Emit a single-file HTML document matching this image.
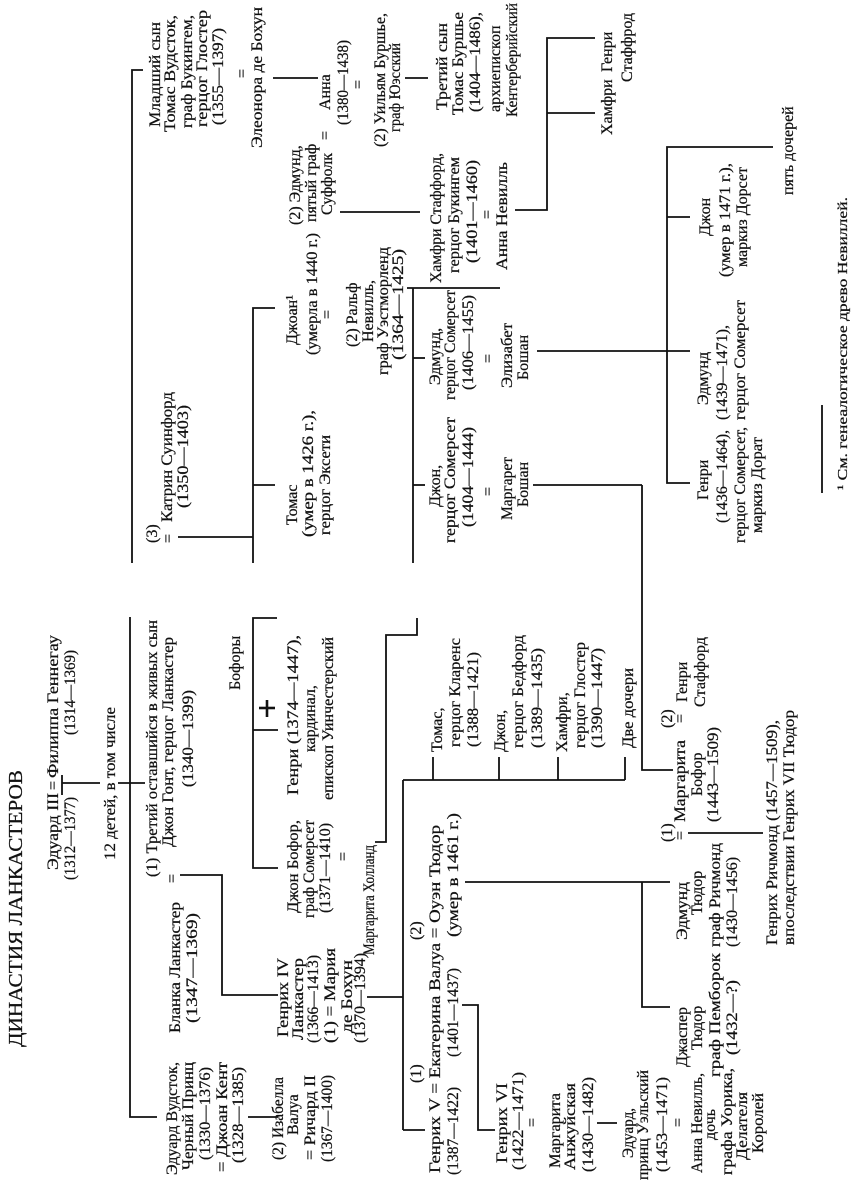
<!DOCTYPE html>
<html><head><meta charset="utf-8"><style>
html,body{margin:0;padding:0;background:#fff;}
svg{display:block;}
text{font-family:"Liberation Serif","DejaVu Serif",serif;font-size:16px;fill:#111;stroke:#111;stroke-width:0.25;}
.s{font-size:14px;}
.t{font-size:20px;}
line,polyline{stroke:#111;stroke-width:1.8;fill:none;}
</style></head><body>
<svg width="858" height="1181" viewBox="0 0 858 1181" xmlns="http://www.w3.org/2000/svg">
<rect width="858" height="1181" fill="#fff"/>
<g id="txt">
<text class="t" transform="translate(22,1047) rotate(-90)" textLength="277" lengthAdjust="spacingAndGlyphs">ДИНАСТИЯ ЛАНКАСТЕРОВ</text>

<text transform="translate(58,870) rotate(-90)" textLength="77" lengthAdjust="spacingAndGlyphs">Эдуард III</text>
<text transform="translate(58,790) rotate(-90)">=</text>
<text transform="translate(58,778) rotate(-90)" textLength="143" lengthAdjust="spacingAndGlyphs">Филиппа Геннегау</text>
<text transform="translate(75,880) rotate(-90)" textLength="83" lengthAdjust="spacingAndGlyphs">(1312—1377)</text>
<text transform="translate(75,735) rotate(-90)" textLength="85" lengthAdjust="spacingAndGlyphs">(1314—1369)</text>
<text transform="translate(115,860) rotate(-90)" textLength="153" lengthAdjust="spacingAndGlyphs">12 детей, в том числе</text>

<text transform="translate(157,877) rotate(-90)" textLength="257" lengthAdjust="spacingAndGlyphs">(1) Третий оставшийся в живых сын</text>
<text transform="translate(173,847) rotate(-90)" textLength="210" lengthAdjust="spacingAndGlyphs">Джон Гонт, герцог Ланкастер</text>
<text transform="translate(193,787) rotate(-90)" textLength="97" lengthAdjust="spacingAndGlyphs">(1340—1399)</text>
<text transform="translate(177,883) rotate(-90)">=</text>

<text transform="translate(180,1033) rotate(-90)" textLength="131" lengthAdjust="spacingAndGlyphs">Бланка Ланкастер</text>
<text transform="translate(197,1023) rotate(-90)" textLength="110" lengthAdjust="spacingAndGlyphs">(1347—1369)</text>

<text transform="translate(177,1175) rotate(-90)" textLength="113" lengthAdjust="spacingAndGlyphs">Эдуард Вудсток,</text>
<text transform="translate(193,1170) rotate(-90)" textLength="108" lengthAdjust="spacingAndGlyphs">Черный Принц</text>
<text transform="translate(210,1160) rotate(-90)" textLength="93" lengthAdjust="spacingAndGlyphs">(1330—1376)</text>
<text transform="translate(227,1172) rotate(-90)" textLength="110" lengthAdjust="spacingAndGlyphs">= Джоан Кент</text>
<text transform="translate(243,1163) rotate(-90)" textLength="96" lengthAdjust="spacingAndGlyphs">(1328—1385)</text>

<text transform="translate(283,1160) rotate(-90)" textLength="83" lengthAdjust="spacingAndGlyphs">(2) Изабелла</text>
<text transform="translate(298,1135) rotate(-90)">Валуа</text>
<text transform="translate(315,1160) rotate(-90)" textLength="85" lengthAdjust="spacingAndGlyphs">= Ричард II</text>
<text transform="translate(332,1162) rotate(-90)" textLength="87" lengthAdjust="spacingAndGlyphs">(1367—1400)</text>

<text transform="translate(288,1037) rotate(-90)" textLength="79" lengthAdjust="spacingAndGlyphs">Генрих IV</text>
<text transform="translate(303,1040) rotate(-90)" textLength="82" lengthAdjust="spacingAndGlyphs">Ланкастер</text>
<text transform="translate(318,1043) rotate(-90)" textLength="88" lengthAdjust="spacingAndGlyphs">(1366—1413)</text>
<text transform="translate(335,1043) rotate(-90)" textLength="95" lengthAdjust="spacingAndGlyphs">(1) = Мария</text>
<text transform="translate(352,1033) rotate(-90)" textLength="73" lengthAdjust="spacingAndGlyphs">де Бохун</text>
<text transform="translate(365,1043) rotate(-90)" textLength="90" lengthAdjust="spacingAndGlyphs">(1370—1394)</text>

<text transform="translate(298,913) rotate(-90)" textLength="93" lengthAdjust="spacingAndGlyphs">Джон Бофор,</text>
<text transform="translate(314,918) rotate(-90)" textLength="98" lengthAdjust="spacingAndGlyphs">граф Сомерсет</text>
<text transform="translate(330,913) rotate(-90)" textLength="90" lengthAdjust="spacingAndGlyphs">(1371—1410)</text>
<text transform="translate(348,861) rotate(-90)">=</text>
<text transform="translate(374,955) rotate(-90)" textLength="110" lengthAdjust="spacingAndGlyphs">Маргарита Холланд</text>

<text transform="translate(240,690) rotate(-90)">Бофоры</text>
<text transform="translate(298,795) rotate(-90)" textLength="160" lengthAdjust="spacingAndGlyphs">Генри (1374—1447),</text>
<text transform="translate(315,752) rotate(-90)">кардинал,</text>
<text transform="translate(333,800) rotate(-90)" textLength="163" lengthAdjust="spacingAndGlyphs">епископ Уинчестерский</text>

<text transform="translate(442,752) rotate(-90)">Томас,</text>
<text transform="translate(460,747) rotate(-90)" textLength="109" lengthAdjust="spacingAndGlyphs">герцог Кларенс</text>
<text transform="translate(478,747) rotate(-90)" textLength="95" lengthAdjust="spacingAndGlyphs">(1388—1421)</text>
<text transform="translate(505,752) rotate(-90)">Джон,</text>
<text transform="translate(523,748) rotate(-90)" textLength="113" lengthAdjust="spacingAndGlyphs">герцог Бедфорд</text>
<text transform="translate(542,748) rotate(-90)" textLength="100" lengthAdjust="spacingAndGlyphs">(1389—1435)</text>
<text transform="translate(567,752) rotate(-90)">Хамфри,</text>
<text transform="translate(585,748) rotate(-90)" textLength="106" lengthAdjust="spacingAndGlyphs">герцог Глостер</text>
<text transform="translate(602,748) rotate(-90)" textLength="100" lengthAdjust="spacingAndGlyphs">(1390—1447)</text>
<text transform="translate(633,748) rotate(-90)" textLength="80" lengthAdjust="spacingAndGlyphs">Две дочери</text>

<text transform="translate(421,1083) rotate(-90)">(1)</text>
<text transform="translate(421,940) rotate(-90)">(2)</text>
<text transform="translate(440,1173) rotate(-90)" textLength="348" lengthAdjust="spacingAndGlyphs">Генрих V = Екатерина Валуа = Оуэн Тюдор</text>
<text transform="translate(458,1175) rotate(-90)" textLength="88" lengthAdjust="spacingAndGlyphs">(1387—1422)</text>
<text transform="translate(458,1057) rotate(-90)" textLength="89" lengthAdjust="spacingAndGlyphs">(1401—1437)</text>
<text transform="translate(458,937) rotate(-90)" textLength="124" lengthAdjust="spacingAndGlyphs">(умер в 1461 г.)</text>

<text transform="translate(507,1163) rotate(-90)" textLength="80" lengthAdjust="spacingAndGlyphs">Генрих VI</text>
<text transform="translate(523,1170) rotate(-90)" textLength="98" lengthAdjust="spacingAndGlyphs">(1422—1471)</text>
<text transform="translate(537,1127) rotate(-90)">=</text>
<text transform="translate(560,1168) rotate(-90)" textLength="75" lengthAdjust="spacingAndGlyphs">Маргарита</text>
<text transform="translate(575,1170) rotate(-90)" textLength="87" lengthAdjust="spacingAndGlyphs">Анжуйская</text>
<text transform="translate(593,1172) rotate(-90)" textLength="95" lengthAdjust="spacingAndGlyphs">(1430—1482)</text>
<text transform="translate(633,1158) rotate(-90)" textLength="50" lengthAdjust="spacingAndGlyphs">Эдуард,</text>
<text transform="translate(648,1180) rotate(-90)" textLength="110" lengthAdjust="spacingAndGlyphs">принц Уэльский</text>
<text transform="translate(667,1172) rotate(-90)" textLength="95" lengthAdjust="spacingAndGlyphs">(1453—1471)</text>
<text transform="translate(683,1127) rotate(-90)">=</text>
<text transform="translate(702,1173) rotate(-90)" textLength="100" lengthAdjust="spacingAndGlyphs">Анна Невилль,</text>
<text transform="translate(715,1140) rotate(-90)">дочь</text>
<text transform="translate(732,1175) rotate(-90)" textLength="107" lengthAdjust="spacingAndGlyphs">графа Уорика,</text>
<text transform="translate(747,1160) rotate(-90)" textLength="68" lengthAdjust="spacingAndGlyphs">Делателя</text>
<text transform="translate(763,1153) rotate(-90)" textLength="60" lengthAdjust="spacingAndGlyphs">Королей</text>

<text transform="translate(687,1067) rotate(-90)" textLength="60" lengthAdjust="spacingAndGlyphs">Джаспер</text>
<text transform="translate(702,1050) rotate(-90)">Тюдор</text>
<text transform="translate(720,1077) rotate(-90)" textLength="124" lengthAdjust="spacingAndGlyphs">граф Пемборок</text>
<text transform="translate(737,1055) rotate(-90)" textLength="75" lengthAdjust="spacingAndGlyphs">(1432—?)</text>

<text transform="translate(687,940) rotate(-90)" textLength="58" lengthAdjust="spacingAndGlyphs">Эдмунд</text>
<text transform="translate(702,915) rotate(-90)">Тюдор</text>
<text transform="translate(720,947) rotate(-90)" textLength="104" lengthAdjust="spacingAndGlyphs">граф Ричмонд</text>
<text transform="translate(737,947) rotate(-90)" textLength="90" lengthAdjust="spacingAndGlyphs">(1430—1456)</text>

<text transform="translate(672,842) rotate(-90)">(1)</text>
<text transform="translate(685,840) rotate(-90)">=</text>
<text transform="translate(685,822) rotate(-90)" textLength="82" lengthAdjust="spacingAndGlyphs">Маргарита</text>
<text transform="translate(702,796) rotate(-90)">Бофор</text>
<text transform="translate(718,822) rotate(-90)" textLength="95" lengthAdjust="spacingAndGlyphs">(1443—1509)</text>
<text transform="translate(672,728) rotate(-90)">(2)</text>
<text transform="translate(685,723) rotate(-90)">=</text>
<text transform="translate(687,702) rotate(-90)">Генри</text>
<text transform="translate(705,707) rotate(-90)" textLength="70" lengthAdjust="spacingAndGlyphs">Стаффорд</text>
<text transform="translate(777,945) rotate(-90)" textLength="225" lengthAdjust="spacingAndGlyphs">Генрих Ричмонд (1457—1509),</text>
<text transform="translate(794,945) rotate(-90)" textLength="235" lengthAdjust="spacingAndGlyphs">впоследствии Генрих VII Тюдор</text>

<!-- upper half -->
<text transform="translate(160,127) rotate(-90)" textLength="105" lengthAdjust="spacingAndGlyphs">Младший сын</text>
<text transform="translate(175,132) rotate(-90)" textLength="117" lengthAdjust="spacingAndGlyphs">Томас Вудсток,</text>
<text transform="translate(192,128) rotate(-90)" textLength="113" lengthAdjust="spacingAndGlyphs">граф Букингем,</text>
<text transform="translate(207,127) rotate(-90)" textLength="117" lengthAdjust="spacingAndGlyphs">герцог Глостер</text>
<text transform="translate(223,125) rotate(-90)" textLength="97" lengthAdjust="spacingAndGlyphs">(1355—1397)</text>
<text transform="translate(247,78) rotate(-90)">=</text>
<text transform="translate(262,148) rotate(-90)" textLength="141" lengthAdjust="spacingAndGlyphs">Элеонора де Бохун</text>
<text transform="translate(330,140) rotate(-90)">=</text>
<text transform="translate(330,110) rotate(-90)">Анна</text>
<text transform="translate(348,125) rotate(-90)" textLength="85" lengthAdjust="spacingAndGlyphs">(1380—1438)</text>
<text transform="translate(363,89) rotate(-90)">=</text>
<text transform="translate(385,147) rotate(-90)" textLength="134" lengthAdjust="spacingAndGlyphs">(2) Уильям Буршье,</text>
<text transform="translate(400,132) rotate(-90)" textLength="89" lengthAdjust="spacingAndGlyphs">граф Юэсский</text>
<text transform="translate(447,110) rotate(-90)" textLength="87" lengthAdjust="spacingAndGlyphs">Третий сын</text>
<text transform="translate(463,115) rotate(-90)" textLength="103" lengthAdjust="spacingAndGlyphs">Томас Буршье</text>
<text transform="translate(480,112) rotate(-90)" textLength="100" lengthAdjust="spacingAndGlyphs">(1404—1486),</text>
<text transform="translate(500,112) rotate(-90)">архиепископ</text>
<text transform="translate(517,117) rotate(-90)" textLength="114" lengthAdjust="spacingAndGlyphs">Кентерберийский</text>

<text transform="translate(300,225) rotate(-90)">(2) Эдмунд,</text>
<text transform="translate(316,222) rotate(-90)">пятый граф</text>
<text transform="translate(332,215) rotate(-90)">Суффолк</text>

<text transform="translate(441,283) rotate(-90)" textLength="130" lengthAdjust="spacingAndGlyphs">Хамфри Стаффорд,</text>
<text transform="translate(459,273) rotate(-90)" textLength="116" lengthAdjust="spacingAndGlyphs">герцог Букингем</text>
<text transform="translate(477,263) rotate(-90)" textLength="103" lengthAdjust="spacingAndGlyphs">(1401—1460)</text>
<text transform="translate(492,219) rotate(-90)">=</text>
<text transform="translate(507,270) rotate(-90)" textLength="108" lengthAdjust="spacingAndGlyphs">Анна Невилль</text>

<text transform="translate(297,345) rotate(-90)">Джоан¹</text>
<text transform="translate(317,355) rotate(-90)" textLength="122" lengthAdjust="spacingAndGlyphs">(умерла в 1440 г.)</text>
<text transform="translate(332,319) rotate(-90)">=</text>
<text transform="translate(357,347) rotate(-90)">(2) Ральф</text>
<text transform="translate(373,342) rotate(-90)">Невилль,</text>
<text transform="translate(388,375) rotate(-90)" textLength="128" lengthAdjust="spacingAndGlyphs">граф Уэстморленд</text>
<text transform="translate(403,360) rotate(-90)" textLength="111" lengthAdjust="spacingAndGlyphs">(1364—1425)</text>

<text transform="translate(157,543) rotate(-90)">(3)</text>
<text transform="translate(173,543) rotate(-90)">=</text>
<text transform="translate(172,522) rotate(-90)" textLength="130" lengthAdjust="spacingAndGlyphs">Катрин Суинфорд</text>
<text transform="translate(188,508) rotate(-90)" textLength="103" lengthAdjust="spacingAndGlyphs">(1350—1403)</text>

<text transform="translate(297,525) rotate(-90)">Томас</text>
<text transform="translate(313,537) rotate(-90)" textLength="127" lengthAdjust="spacingAndGlyphs">(умер в 1426 г.),</text>
<text transform="translate(330,535) rotate(-90)" textLength="100" lengthAdjust="spacingAndGlyphs">герцог Эксети</text>

<text transform="translate(440,507) rotate(-90)">Джон,</text>
<text transform="translate(455,543) rotate(-90)" textLength="126" lengthAdjust="spacingAndGlyphs">герцог Сомерсет</text>
<text transform="translate(473,527) rotate(-90)" textLength="100" lengthAdjust="spacingAndGlyphs">(1404—1444)</text>
<text transform="translate(493,496) rotate(-90)">=</text>
<text transform="translate(512,520) rotate(-90)" textLength="63" lengthAdjust="spacingAndGlyphs">Маргарет</text>
<text transform="translate(528,507) rotate(-90)">Бошан</text>

<text transform="translate(440,385) rotate(-90)">Эдмунд,</text>
<text transform="translate(455,400) rotate(-90)" textLength="110" lengthAdjust="spacingAndGlyphs">герцог Сомерсет</text>
<text transform="translate(473,390) rotate(-90)" textLength="95" lengthAdjust="spacingAndGlyphs">(1406—1455)</text>
<text transform="translate(493,363) rotate(-90)">=</text>
<text transform="translate(512,388) rotate(-90)" textLength="65" lengthAdjust="spacingAndGlyphs">Элизабет</text>
<text transform="translate(528,380) rotate(-90)">Бошан</text>

<text transform="translate(710,236) rotate(-90)">Джон</text>
<text transform="translate(730,277) rotate(-90)" textLength="114" lengthAdjust="spacingAndGlyphs">(умер в 1471 г.),</text>
<text transform="translate(747,267) rotate(-90)" textLength="100" lengthAdjust="spacingAndGlyphs">маркиз Дорсет</text>
<text transform="translate(708,405) rotate(-90)">Эдмунд</text>
<text transform="translate(727,420) rotate(-90)" textLength="95" lengthAdjust="spacingAndGlyphs">(1439—1471),</text>
<text transform="translate(745,420) rotate(-90)" textLength="120" lengthAdjust="spacingAndGlyphs">герцог Сомерсет</text>
<text transform="translate(708,500) rotate(-90)">Генри</text>
<text transform="translate(727,523) rotate(-90)" textLength="93" lengthAdjust="spacingAndGlyphs">(1436—1464),</text>
<text transform="translate(745,543) rotate(-90)" textLength="116" lengthAdjust="spacingAndGlyphs">герцог Сомерсет,</text>
<text transform="translate(762,533) rotate(-90)" textLength="96" lengthAdjust="spacingAndGlyphs">маркиз Дорат</text>
<text transform="translate(793,195) rotate(-90)">пять дочерей</text>

<text transform="translate(612,135) rotate(-90)">Хамфри</text>
<text transform="translate(612,72) rotate(-90)">Генри</text>
<text transform="translate(632,82) rotate(-90)">Стаффрод</text>

<text class="s" transform="translate(847,490) rotate(-90)" textLength="293" lengthAdjust="spacingAndGlyphs">¹ См. генеалогическое древо Невиллей.</text>
</g>

<g id="lines">
<line x1="62" y1="775" x2="62" y2="795"/>
<line x1="62" y1="783" x2="100" y2="783"/>
<line x1="118" y1="783" x2="145" y2="783"/>
<polyline points="143,70 132,70 132,563"/>
<polyline points="130,617 130,1117 157,1117"/>
<polyline points="180,875 222,875 222,995 278,995"/>
<line x1="248" y1="1117" x2="278" y2="1117"/>
<line x1="367" y1="997" x2="403" y2="997"/>
<line x1="403" y1="780" x2="403" y2="1130"/>
<line x1="403" y1="1130" x2="425" y2="1130"/>
<line x1="403" y1="780" x2="625" y2="780"/>
<line x1="433" y1="780" x2="433" y2="757"/>
<line x1="499" y1="780" x2="499" y2="757"/>
<line x1="558" y1="780" x2="558" y2="757"/>
<line x1="625" y1="780" x2="625" y2="757"/>
<polyline points="375,842 386,842 386,635 417,635 417,618"/>
<polyline points="277,618 253,618 253,868 278,868"/>
<line x1="253" y1="730" x2="278" y2="730"/>
<line x1="267" y1="700" x2="267" y2="717" style="stroke-width:2.6"/>
<line x1="259" y1="708" x2="275" y2="708" style="stroke-width:2.6"/>
<polyline points="462,1005 478,1005 478,1130 495,1130"/>
<line x1="597" y1="1123" x2="617" y2="1123"/>
<line x1="465" y1="882" x2="670" y2="882"/>
<polyline points="642,882 642,1007 670,1007"/>
<line x1="688" y1="833" x2="763" y2="833"/>
<polyline points="642,485 642,770 673,770"/>

<line x1="273" y1="78" x2="318" y2="78"/>
<line x1="405" y1="78" x2="428" y2="78"/>
<line x1="340" y1="212" x2="420" y2="212"/>
<line x1="407" y1="288" x2="500" y2="288"/>
<line x1="178" y1="537" x2="253" y2="537"/>
<polyline points="275,308 253,308 253,563"/>
<line x1="253" y1="485" x2="275" y2="485"/>
<polyline points="413,288 413,563"/>
<line x1="413" y1="358" x2="425" y2="358"/>
<line x1="413" y1="485" x2="425" y2="485"/>
<line x1="533" y1="485" x2="642" y2="485"/>
<line x1="537" y1="351" x2="690" y2="351"/>
<polyline points="773,147 667,147 667,483 690,483"/>
<line x1="667" y1="217" x2="690" y2="217"/>
<polyline points="515,210 547,210 547,38 595,38"/>
<line x1="547" y1="113" x2="595" y2="113"/>
<line x1="822" y1="405" x2="822" y2="493"/>
</g>
</svg>
</body></html>
